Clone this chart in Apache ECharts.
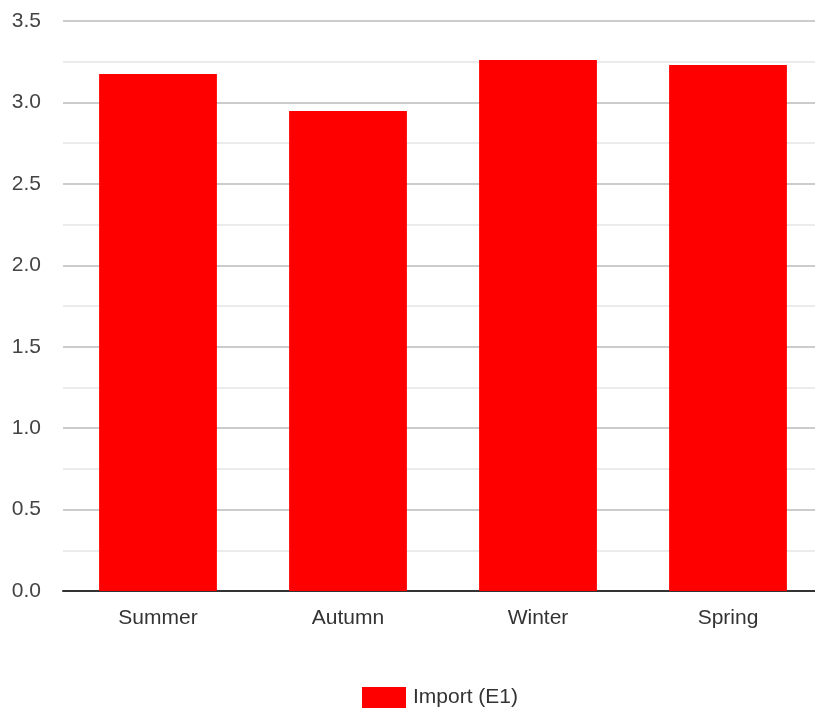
<!DOCTYPE html>
<html>
<head>
<meta charset="utf-8">
<script src="https://cdn.jsdelivr.net/npm/echarts@6/dist/echarts.min.js"></script>
<style>
  html, body { margin: 0; padding: 0; background: #fff; }
  #chart-wrap { width: 815px; height: 711px; }
</style>
</head>
<body>
<div id="chart-wrap"></div>
<script>
var seasons = ['Summer', 'Autumn', 'Winter', 'Spring'];
var importE1 = [3.175, 2.947, 3.26, 3.23];
var seriesName = 'Import (E1)';

var myChart = echarts.init(document.getElementById('chart-wrap'));
var font = 'Liberation Sans, Arial, sans-serif';
var option = {
  animation: false,
  grid: { left: 63, top: 21, width: 760, bottom: 120, outerBoundsMode: 'none', containLabel: false },
  legend: {
    data: [seriesName],
    top: 687,
    left: 362,
    padding: 0,
    itemWidth: 44,
    itemHeight: 21,
    itemGap: 8,
    icon: 'rect',
    textStyle: { fontFamily: font, fontSize: 21, color: '#333', padding: [3, 0, 0, 2] }
  },
  xAxis: {
    type: 'category',
    data: seasons,
    axisTick: { show: false },
    axisLine: { lineStyle: { color: '#333', width: 2 } },
    axisLabel: { fontFamily: font, fontSize: 21, color: '#333', margin: 17 }
  },
  yAxis: {
    type: 'value',
    min: 0,
    max: 3.5,
    interval: 0.5,
    axisLine: { show: false },
    axisTick: { show: false },
    axisLabel: {
      fontFamily: font, fontSize: 21, color: '#444', margin: 22,
      formatter: function (v) { return v.toFixed(1); }
    },
    splitLine: { lineStyle: { color: '#ccc', width: 2 } },
    minorTick: { show: false, splitNumber: 2 },
    minorSplitLine: { show: true, lineStyle: { color: '#ebebeb', width: 2 } }
  },
  series: [{
    name: seriesName,
    type: 'bar',
    data: importE1,
    barWidth: '62%',
    itemStyle: { color: '#ff0000' }
  }]
};
myChart.setOption(option);
</script>
</body>
</html>
